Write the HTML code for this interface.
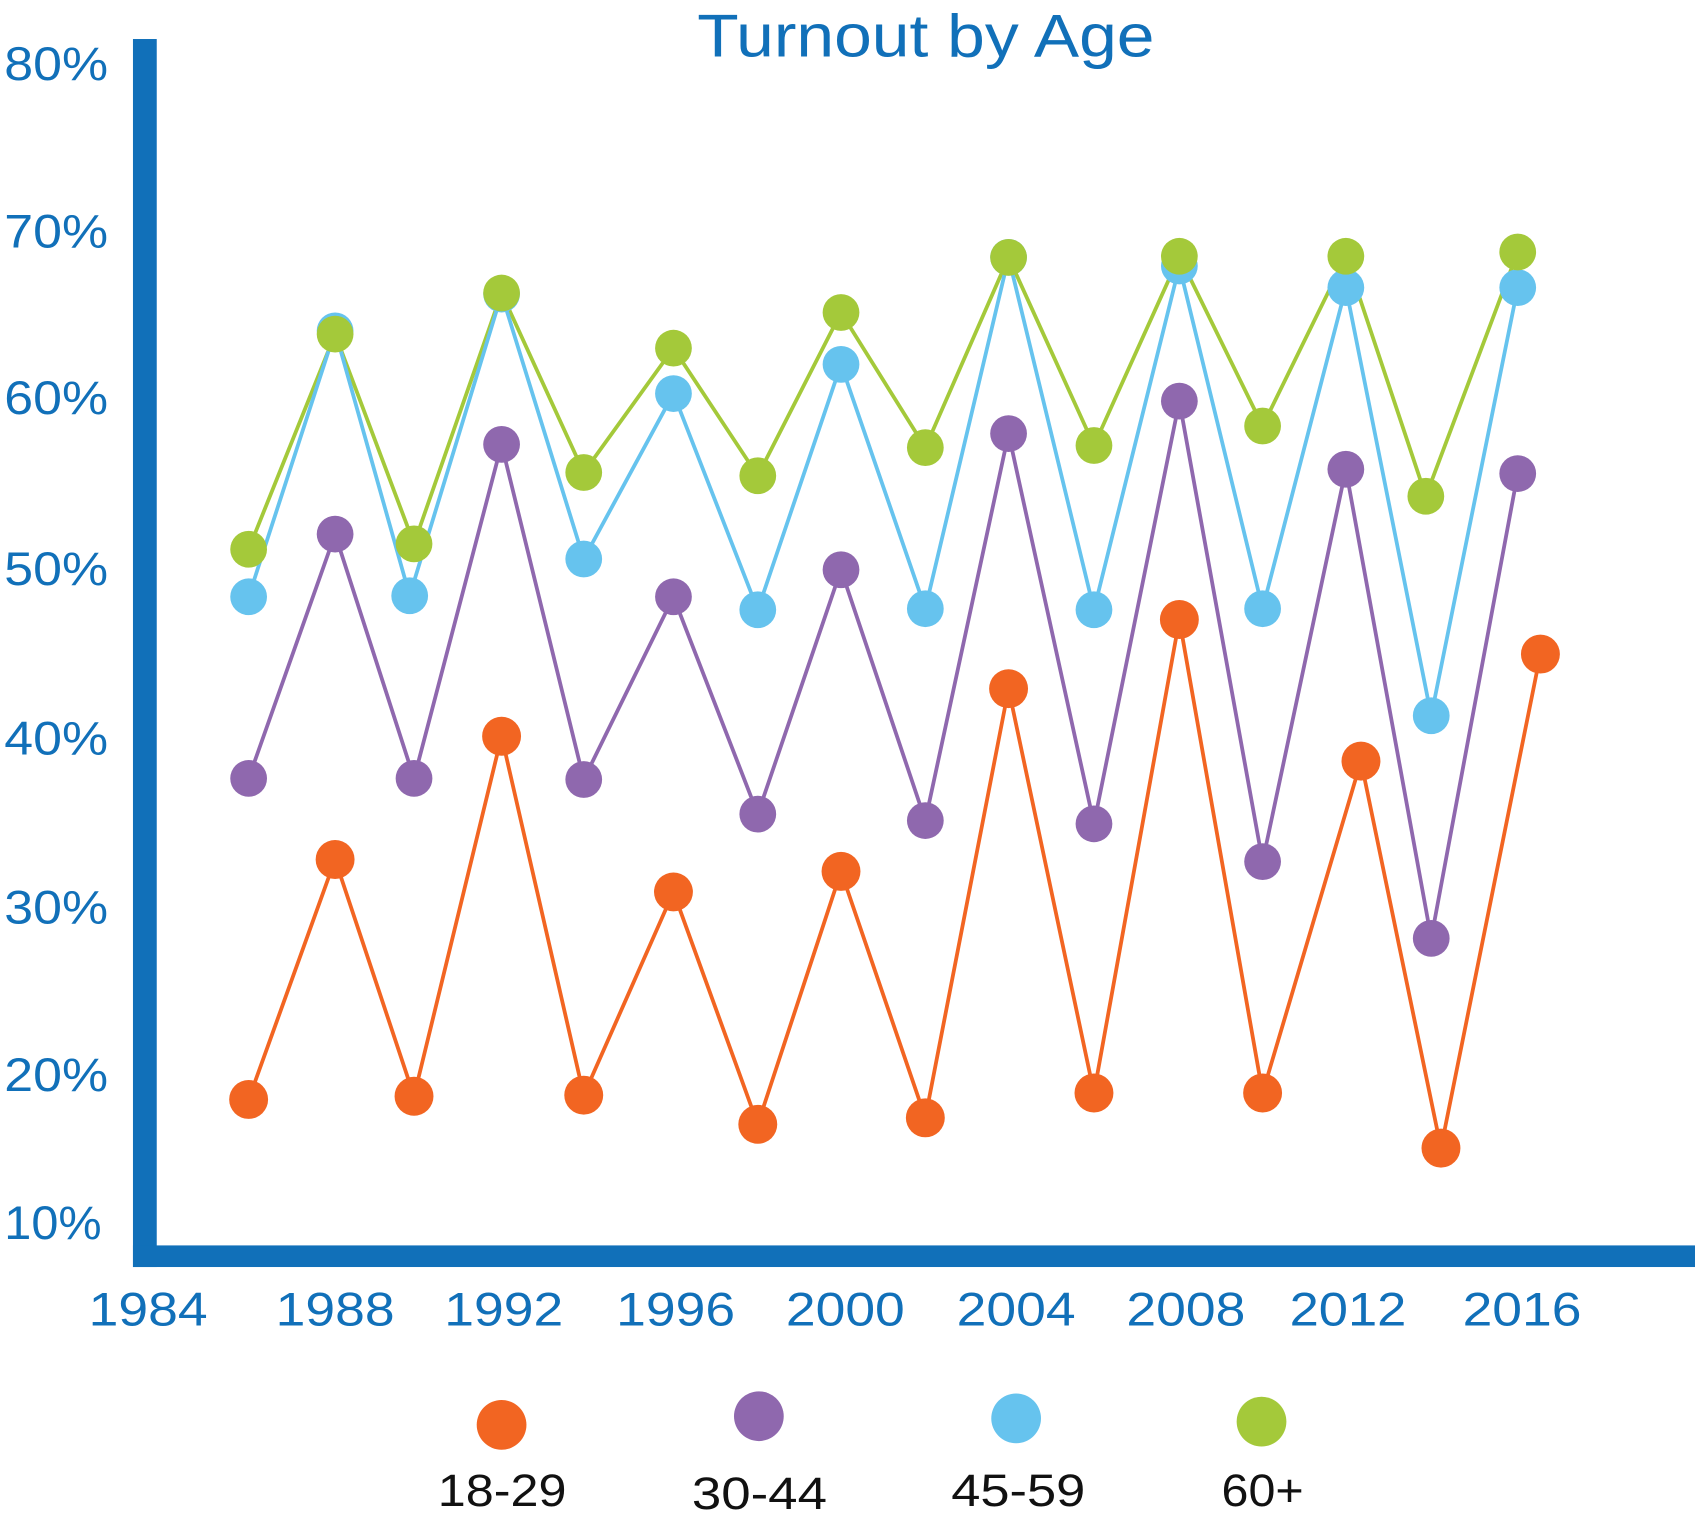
<!DOCTYPE html>
<html><head><style>html,body{margin:0;padding:0;background:#fff}svg{display:block}</style></head>
<body>
<svg width="1695" height="1519" viewBox="0 0 1568 1405" xmlns="http://www.w3.org/2000/svg" font-family="'Liberation Sans', sans-serif">
<rect width="1568" height="1405" fill="#fff"/>
<text x="645" y="52" font-size="56" fill="#1170b9" textLength="423" lengthAdjust="spacingAndGlyphs">Turnout by Age</text>
<g font-size="44" fill="#1170b9">
<text x="4" y="74" textLength="96" lengthAdjust="spacingAndGlyphs">80%</text><text x="4" y="229" textLength="96" lengthAdjust="spacingAndGlyphs">70%</text><text x="4" y="383" textLength="96" lengthAdjust="spacingAndGlyphs">60%</text><text x="4" y="541" textLength="96" lengthAdjust="spacingAndGlyphs">50%</text><text x="4" y="698" textLength="96" lengthAdjust="spacingAndGlyphs">40%</text><text x="4" y="854" textLength="96" lengthAdjust="spacingAndGlyphs">30%</text><text x="4" y="1009" textLength="96" lengthAdjust="spacingAndGlyphs">20%</text><text x="4" y="1146" textLength="90" lengthAdjust="spacingAndGlyphs">10%</text>
</g>
<g font-size="44" fill="#1170b9">
<text x="82" y="1226" textLength="110" lengthAdjust="spacingAndGlyphs">1984</text><text x="255" y="1226" textLength="110" lengthAdjust="spacingAndGlyphs">1988</text><text x="411" y="1226" textLength="110" lengthAdjust="spacingAndGlyphs">1992</text><text x="570" y="1226" textLength="110" lengthAdjust="spacingAndGlyphs">1996</text><text x="727" y="1226" textLength="110" lengthAdjust="spacingAndGlyphs">2000</text><text x="885" y="1226" textLength="110" lengthAdjust="spacingAndGlyphs">2004</text><text x="1042" y="1226" textLength="110" lengthAdjust="spacingAndGlyphs">2008</text><text x="1193" y="1226" textLength="108" lengthAdjust="spacingAndGlyphs">2012</text><text x="1353" y="1226" textLength="110" lengthAdjust="spacingAndGlyphs">2016</text>
</g>
<rect x="123" y="36" width="22" height="1136" fill="#1170b9"/>
<rect x="123" y="1152" width="1445" height="20" fill="#1170b9"/>
<g fill="none" stroke-width="3.5" stroke-linejoin="round">
<polyline stroke="#a4c93a" points="230,508 310,309 383,503 464,271 540,437 623,322 701,440 778,289 856,414 933,238 1012,412 1091,237 1168,394 1245,237 1319,459 1404,233"/>
<polyline stroke="#66c3ee" points="230,552 310,306 379,551 464,272 540,517 623,364 701,564 778,337 856,563 933,238 1012,564 1091,246 1168,563 1245,266 1324,662 1404,266"/>
<polyline stroke="#8f68ae" points="230,720 310,494 383,720 464,411 540,721 623,552 701,753 778,527 856,759 933,401 1012,762 1091,371 1168,797 1245,434 1324,868 1404,438"/>
<polyline stroke="#f26522" points="230,1017 310,795 383,1014 464,681 540,1013 623,825 701,1040 778,806 856,1034 933,637 1012,1011 1091,573 1168,1011 1259,704 1333,1062 1425,605"/>
</g>
<g fill="#66c3ee">
<circle cx="230" cy="552" r="17"/><circle cx="310" cy="306" r="17"/><circle cx="379" cy="551" r="17"/><circle cx="464" cy="272" r="17"/><circle cx="540" cy="517" r="17"/><circle cx="623" cy="364" r="17"/><circle cx="701" cy="564" r="17"/><circle cx="778" cy="337" r="17"/><circle cx="856" cy="563" r="17"/><circle cx="933" cy="238" r="17"/><circle cx="1012" cy="564" r="17"/><circle cx="1091" cy="246" r="17"/><circle cx="1168" cy="563" r="17"/><circle cx="1245" cy="266" r="17"/><circle cx="1324" cy="662" r="17"/><circle cx="1404" cy="266" r="17"/>
</g>
<g fill="#a4c93a">
<circle cx="230" cy="508" r="17"/><circle cx="310" cy="309" r="17"/><circle cx="383" cy="503" r="17"/><circle cx="464" cy="271" r="17"/><circle cx="540" cy="437" r="17"/><circle cx="623" cy="322" r="17"/><circle cx="701" cy="440" r="17"/><circle cx="778" cy="289" r="17"/><circle cx="856" cy="414" r="17"/><circle cx="933" cy="238" r="17"/><circle cx="1012" cy="412" r="17"/><circle cx="1091" cy="237" r="17"/><circle cx="1168" cy="394" r="17"/><circle cx="1245" cy="237" r="17"/><circle cx="1319" cy="459" r="17"/><circle cx="1404" cy="233" r="17"/>
</g>
<g fill="#8f68ae">
<circle cx="230" cy="720" r="17"/><circle cx="310" cy="494" r="17"/><circle cx="383" cy="720" r="17"/><circle cx="464" cy="411" r="17"/><circle cx="540" cy="721" r="17"/><circle cx="623" cy="552" r="17"/><circle cx="701" cy="753" r="17"/><circle cx="778" cy="527" r="17"/><circle cx="856" cy="759" r="17"/><circle cx="933" cy="401" r="17"/><circle cx="1012" cy="762" r="17"/><circle cx="1091" cy="371" r="17"/><circle cx="1168" cy="797" r="17"/><circle cx="1245" cy="434" r="17"/><circle cx="1324" cy="868" r="17"/><circle cx="1404" cy="438" r="17"/>
</g>
<g fill="#f26522">
<circle cx="230" cy="1017" r="18"/><circle cx="310" cy="795" r="18"/><circle cx="383" cy="1014" r="18"/><circle cx="464" cy="681" r="18"/><circle cx="540" cy="1013" r="18"/><circle cx="623" cy="825" r="18"/><circle cx="701" cy="1040" r="18"/><circle cx="778" cy="806" r="18"/><circle cx="856" cy="1034" r="18"/><circle cx="933" cy="637" r="18"/><circle cx="1012" cy="1011" r="18"/><circle cx="1091" cy="573" r="18"/><circle cx="1168" cy="1011" r="18"/><circle cx="1259" cy="704" r="18"/><circle cx="1333" cy="1062" r="18"/><circle cx="1425" cy="605" r="18"/>
</g>
<circle cx="464" cy="1318" r="23" fill="#f26522"/>
<circle cx="702" cy="1310" r="23" fill="#8f68ae"/>
<circle cx="940" cy="1312" r="23" fill="#66c3ee"/>
<circle cx="1167" cy="1315" r="23" fill="#a4c93a"/>
<g font-size="42" fill="#111">
<text x="405" y="1393" textLength="119" lengthAdjust="spacingAndGlyphs">18-29</text><text x="640" y="1396" textLength="125" lengthAdjust="spacingAndGlyphs">30-44</text><text x="880" y="1393" textLength="124" lengthAdjust="spacingAndGlyphs">45-59</text><text x="1130" y="1393" textLength="76" lengthAdjust="spacingAndGlyphs">60+</text>
</g>
</svg>
</body></html>
